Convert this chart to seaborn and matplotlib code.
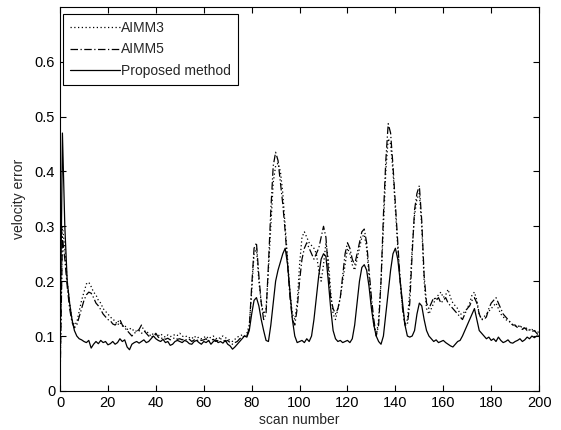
import numpy as np
import pandas as pd
import matplotlib
matplotlib.use("Agg")
import matplotlib.pyplot as plt
import seaborn as sns
from matplotlib.ticker import FuncFormatter

# scan numbers 0..200
SCANS = list(range(201))

AIMM3 = [
    0.02, 0.3, 0.26, 0.2, 0.16, 0.13, 0.12, 0.125, 0.145, 0.165,
    0.18, 0.195, 0.198, 0.19, 0.18, 0.175, 0.165, 0.16, 0.15, 0.145,
    0.14, 0.135, 0.13, 0.128, 0.12, 0.125, 0.118, 0.12, 0.112, 0.115,
    0.11, 0.112, 0.108, 0.11, 0.105, 0.108, 0.11, 0.104, 0.1, 0.105,
    0.102, 0.1, 0.104, 0.1, 0.098, 0.102, 0.099, 0.1, 0.103, 0.101,
    0.105, 0.1, 0.098, 0.1, 0.097, 0.095, 0.1, 0.096, 0.098, 0.095,
    0.097, 0.1, 0.095, 0.098, 0.1, 0.096, 0.094, 0.098, 0.1, 0.097,
    0.095, 0.092, 0.09, 0.094, 0.098, 0.1, 0.102, 0.1, 0.105, 0.12,
    0.18, 0.25, 0.26, 0.2, 0.16, 0.14, 0.15, 0.22, 0.3, 0.38,
    0.41, 0.415, 0.4, 0.36, 0.3, 0.24, 0.18, 0.14, 0.13, 0.16,
    0.23, 0.28, 0.29, 0.28, 0.27, 0.265, 0.26, 0.25, 0.22, 0.2,
    0.23, 0.27, 0.24, 0.18, 0.14, 0.13, 0.15, 0.17, 0.2, 0.23,
    0.26, 0.25, 0.23, 0.22, 0.24, 0.26, 0.28, 0.285, 0.26, 0.21,
    0.16, 0.12, 0.1, 0.13, 0.2, 0.3, 0.4, 0.46, 0.45, 0.4,
    0.33, 0.26, 0.2, 0.15, 0.12, 0.13, 0.18, 0.26, 0.32, 0.35,
    0.36, 0.3, 0.2, 0.15, 0.14, 0.15, 0.16, 0.17, 0.175, 0.18,
    0.17, 0.175, 0.185, 0.17, 0.16, 0.155, 0.15, 0.14, 0.14, 0.145,
    0.15, 0.16, 0.175, 0.18, 0.165, 0.14, 0.13, 0.135, 0.14, 0.145,
    0.15, 0.155, 0.16, 0.15, 0.14, 0.135, 0.13, 0.128, 0.125, 0.12,
    0.118, 0.12, 0.115, 0.118, 0.112, 0.115, 0.11, 0.112, 0.108, 0.11, 0.105,
]

AIMM5 = [
    0.01, 0.28, 0.24, 0.19, 0.15, 0.125, 0.115, 0.12, 0.135, 0.15,
    0.165, 0.175, 0.18, 0.178, 0.17, 0.16, 0.155, 0.148, 0.14, 0.135,
    0.13, 0.128, 0.122, 0.12, 0.125, 0.13, 0.12, 0.115, 0.11, 0.105,
    0.1, 0.105, 0.108, 0.112, 0.12, 0.11, 0.105, 0.1, 0.098, 0.1,
    0.105, 0.098, 0.095, 0.097, 0.094, 0.096, 0.093, 0.095, 0.097, 0.094,
    0.095, 0.093, 0.095, 0.092, 0.094, 0.09, 0.093, 0.091, 0.094, 0.092,
    0.093, 0.095, 0.09, 0.092, 0.094, 0.09, 0.092, 0.095, 0.093, 0.09,
    0.092, 0.088, 0.085, 0.088, 0.09, 0.095, 0.098, 0.1, 0.1, 0.115,
    0.19, 0.26, 0.27, 0.21, 0.16, 0.13, 0.14, 0.23, 0.33, 0.41,
    0.435, 0.42, 0.38, 0.34, 0.29, 0.23, 0.17, 0.13, 0.12, 0.15,
    0.2, 0.24, 0.26, 0.27, 0.26, 0.25, 0.24, 0.25, 0.26, 0.28,
    0.3, 0.28, 0.22, 0.17, 0.15, 0.14, 0.15, 0.17, 0.21, 0.25,
    0.27, 0.26, 0.24, 0.23, 0.25, 0.27, 0.29, 0.295, 0.27, 0.22,
    0.17, 0.13, 0.1, 0.12, 0.2, 0.32, 0.42, 0.487, 0.47, 0.41,
    0.34, 0.27, 0.2, 0.15, 0.12, 0.12, 0.16, 0.25, 0.33, 0.36,
    0.374, 0.31, 0.21, 0.16, 0.15, 0.16, 0.17, 0.165, 0.17, 0.16,
    0.165, 0.17, 0.16, 0.155, 0.15, 0.145, 0.14, 0.135, 0.13, 0.14,
    0.15, 0.155, 0.165, 0.17, 0.16, 0.14, 0.13, 0.13, 0.135, 0.15,
    0.16, 0.165, 0.17, 0.16, 0.15, 0.14, 0.135, 0.13, 0.125, 0.12,
    0.12, 0.115, 0.118, 0.112, 0.115, 0.11, 0.112, 0.108, 0.11, 0.105, 0.1,
]

PROPOSED = [
    0.05, 0.47, 0.3, 0.2, 0.16, 0.13, 0.11, 0.1, 0.095, 0.093,
    0.09, 0.088, 0.092, 0.078, 0.085, 0.09, 0.086, 0.092, 0.088, 0.09,
    0.084, 0.086, 0.09, 0.085, 0.088, 0.095, 0.09, 0.093, 0.08, 0.075,
    0.085, 0.088, 0.09, 0.087, 0.09, 0.093, 0.088, 0.09, 0.095, 0.1,
    0.095, 0.092, 0.09, 0.094, 0.088, 0.09, 0.083, 0.085, 0.09, 0.092,
    0.09, 0.088, 0.092, 0.09, 0.086, 0.085, 0.09, 0.092, 0.088, 0.085,
    0.09, 0.088, 0.092, 0.085, 0.09, 0.093, 0.088, 0.09, 0.087, 0.092,
    0.085, 0.082, 0.076, 0.08, 0.085, 0.09, 0.095, 0.1, 0.098, 0.11,
    0.14, 0.165, 0.17, 0.155, 0.13, 0.11, 0.092, 0.09, 0.12, 0.16,
    0.2, 0.22, 0.235, 0.25, 0.26, 0.23, 0.18, 0.13, 0.1, 0.088,
    0.09, 0.092, 0.088, 0.095, 0.09, 0.1, 0.13, 0.17, 0.21, 0.24,
    0.25, 0.245, 0.2, 0.15, 0.11, 0.095, 0.09, 0.092, 0.088, 0.09,
    0.092, 0.088, 0.095, 0.12, 0.16, 0.2, 0.225, 0.23, 0.22, 0.19,
    0.15, 0.12, 0.1, 0.09, 0.085, 0.1, 0.14, 0.18, 0.22, 0.25,
    0.26, 0.24, 0.2, 0.16, 0.12, 0.1, 0.098, 0.1, 0.11, 0.14,
    0.16, 0.155, 0.13, 0.11, 0.1, 0.095, 0.09, 0.093, 0.088, 0.09,
    0.092, 0.088, 0.085, 0.082, 0.08, 0.085, 0.09, 0.092, 0.1, 0.11,
    0.12, 0.13, 0.14, 0.15, 0.13, 0.11, 0.105, 0.1, 0.095, 0.098,
    0.092, 0.095, 0.09, 0.098, 0.092, 0.088, 0.09, 0.093, 0.088, 0.087,
    0.09, 0.092, 0.095, 0.09, 0.093, 0.098, 0.095, 0.1, 0.097, 0.1, 0.1,
]

SERIES = [
    ("AIMM3", AIMM3, (0, (1, 2))),
    ("AIMM5", AIMM5, (0, (6, 2, 1, 2))),
    ("Proposed method", PROPOSED, "-"),
]

sns.set_style("ticks")
plt.rcParams["font.family"] = ["Liberation Sans", "DejaVu Sans"]

fig = plt.figure(figsize=(5.61, 4.30), dpi=100)
ax = fig.add_axes([0.107, 0.091, 0.854, 0.893])

for name, vals, ls in SERIES:
    df = pd.DataFrame({"scan": SCANS, "err": vals})
    sns.lineplot(data=df, x="scan", y="err", ax=ax, color="black",
                 linestyle=ls, linewidth=0.9, label=name)

ax.set_xlim(0, 200)
ax.set_ylim(0, 0.7)
ax.set_xticks(np.arange(0, 201, 20))
ax.set_yticks(np.arange(0, 0.61, 0.1))
ax.yaxis.set_major_formatter(FuncFormatter(lambda v, p: "%g" % round(v, 2)))
ax.tick_params(direction="in", top=True, right=True, labelsize=10.5,
               length=4, width=0.8, colors="black")
for s in ax.spines.values():
    s.set_visible(True)
    s.set_color("black")
    s.set_linewidth(0.8)

ax.set_xlabel("scan number", fontsize=10, labelpad=2)
ax.set_ylabel("velocity error", fontsize=10, labelpad=6)

leg = ax.legend(loc="upper left", bbox_to_anchor=(0.006, 0.982), fontsize=10,
                frameon=True, fancybox=False, handlelength=3.6,
                handletextpad=0.1, labelspacing=0.55, borderpad=0.5,
                borderaxespad=0)
leg.get_frame().set_edgecolor("black")
leg.get_frame().set_linewidth(0.8)
leg.get_frame().set_alpha(1)

fig.savefig("out.png", dpi=100)
